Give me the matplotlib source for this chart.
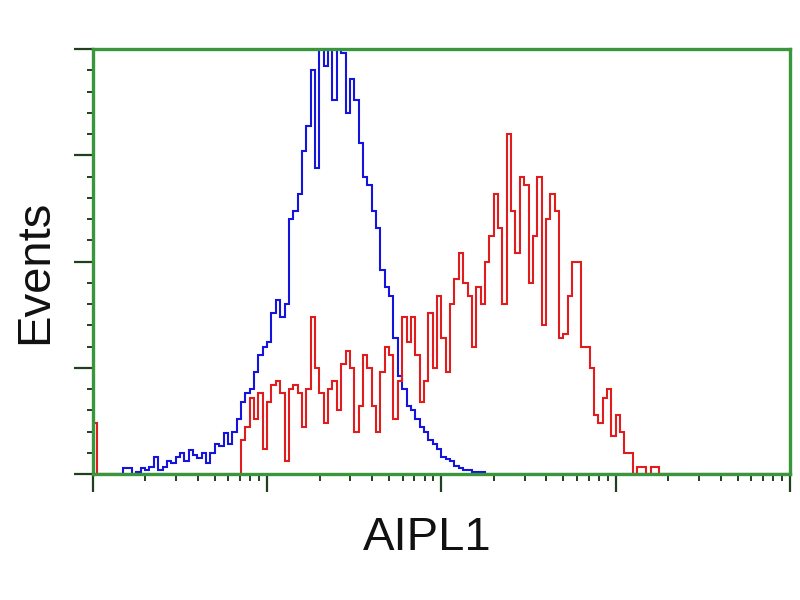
import numpy as np
import matplotlib
matplotlib.use("Agg")
import matplotlib.pyplot as plt
from matplotlib.ticker import LogLocator, MultipleLocator, NullFormatter

plt.rcParams["font.family"] = ["Liberation Sans", "DejaVu Sans"]

# ---- data: histogram counts per log channel (40 channels / decade, 4 decades) ----
n_channels = 160
decades = (0, 4)

blue_first = 7
blue_counts = [
    1.5, 1.5, 0, 0.5, 1.5, 1, 1.6, 4, 1, 1.6, 3, 2.5,
    4, 5, 3, 5.6, 4.5, 3.8, 5, 2.6, 5, 7, 6.5, 9.6,
    7, 10, 13, 17, 19, 20, 24, 28, 30, 31, 38, 41,
    37, 40, 60, 62, 66, 76, 82, 95, 72, 100, 96, 100,
    88, 100, 99, 85, 93, 88, 78, 70, 68, 62, 58, 48,
    44, 42, 32, 23, 20, 16, 15, 13, 11, 10, 8, 7,
    6, 4, 3.5, 3, 2, 1.5, 1, 1, 0.5, 0.5, 0.5, 0,
]

red_first = 0
red_counts = [12] + [0] * 33 + [
    8, 11, 18, 13, 19, 6, 17, 21, 22, 19, 3, 20,
    21, 19, 11, 20, 37, 25, 19, 12, 20, 22, 15, 26,
    29, 25, 10, 16, 28, 25, 16, 10, 24, 30, 28, 13,
    22, 37, 31, 37, 28, 17, 22, 38, 25, 42, 32, 24,
    40, 46, 52, 45, 42, 30, 44, 40, 50, 56, 66, 58,
    40, 80, 62, 52, 70, 68, 45, 56, 70, 35, 60, 66,
    62, 32, 33, 42, 50, 50, 30, 30, 25, 14, 12, 18,
    20, 9, 14, 10, 5, 5, 0, 1.6, 1.6, 0, 1.6, 1.6, 0,
]

x_label = "AIPL1"
y_label = "Events"


def full(counts, first):
    arr = np.zeros(n_channels)
    arr[first:first + len(counts)] = counts
    return arr


edges = np.logspace(decades[0], decades[1], n_channels + 1)
blue = full(blue_counts, blue_first)
red = full(red_counts, red_first)

green = "#3a963a"
tick_col = "#1f401f"

fig = plt.figure(figsize=(8, 6), dpi=100)
ax = fig.add_axes([0.116, 0.21, 0.8715, 0.708])

ax.stairs(blue, edges, color="#1414dc", linewidth=1.5)
ax.stairs(red, edges, color="#e01c1c", linewidth=1.5)

ax.set_xscale("log")
ax.set_xlim(10 ** decades[0], 10 ** decades[1])
ax.set_ylim(0, 100)

for s in ax.spines.values():
    s.set_color(green)
    s.set_linewidth(2.4)

ax.xaxis.set_major_locator(LogLocator(base=10, numticks=10))
ax.xaxis.set_minor_locator(LogLocator(base=10, subs=np.arange(2, 10), numticks=20))
ax.xaxis.set_major_formatter(NullFormatter())
ax.xaxis.set_minor_formatter(NullFormatter())
ax.yaxis.set_major_locator(MultipleLocator(25))
ax.yaxis.set_minor_locator(MultipleLocator(5))
ax.yaxis.set_major_formatter(NullFormatter())

ax.tick_params(axis="x", which="major", direction="out", length=13, width=1.6, color=tick_col)
ax.tick_params(axis="x", which="minor", direction="out", length=5, width=1.4, color=tick_col)
ax.tick_params(axis="y", which="major", direction="out", length=14, width=1.6, color=tick_col)
ax.tick_params(axis="y", which="minor", direction="out", length=4, width=1.4, color=tick_col)

fig.text(427 / 800, 1 - 538 / 600, x_label, fontsize=34, ha="center", va="center", color="#111111")
fig.text(35 / 800, 1 - 272 / 600, y_label, fontsize=34, ha="center", va="center",
         rotation=90, color="#111111")

fig.savefig("out.png", dpi=100)
